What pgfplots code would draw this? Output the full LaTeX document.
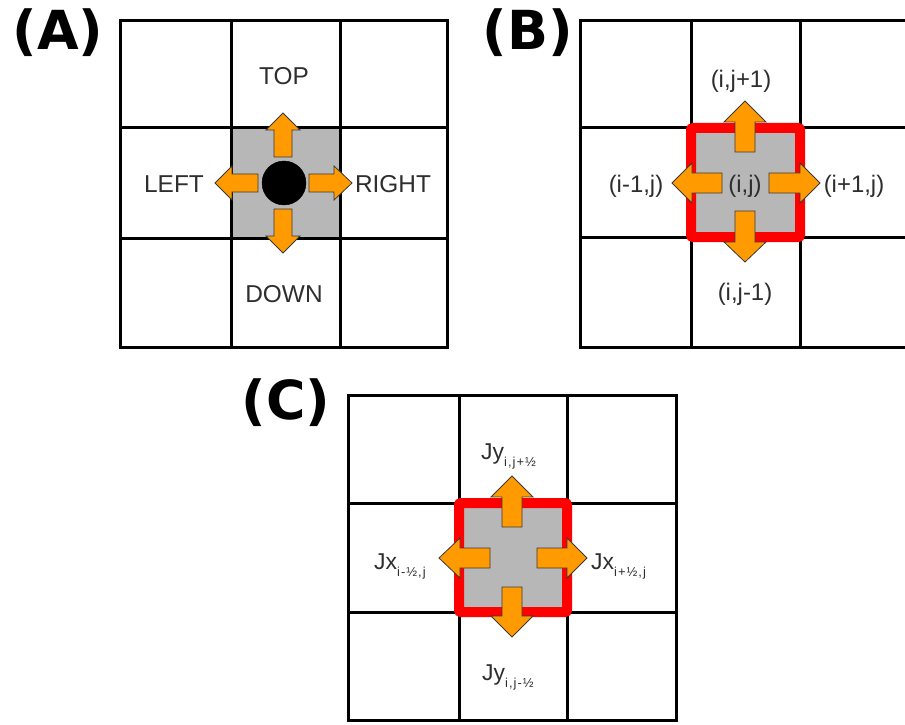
\documentclass[border=0pt]{standalone}
\usepackage{fontspec}
\setmainfont{Liberation Sans}
\newfontfamily\panelfont{DejaVu Sans}
\usepackage{pgfplots}
\pgfplotsset{compat=1.18}
\definecolor{cellgray}{HTML}{B7B7B7}
\definecolor{fluxorange}{HTML}{FF9A00}
\definecolor{labelgray}{HTML}{2E2E2E}
\definecolor{arrowedge}{HTML}{3A3A3A}
\newcommand\lab[1]{\fontsize{#1}{#1}\selectfont}
\newcommand\flux[2]{{\lab{23}#1}\raisebox{-7bp}{\addfontfeatures{LetterSpace=8}\lab{13}#2}}
\begin{document}
\begin{tikzpicture}
\begin{axis}[
  width=905bp, height=725bp, scale only axis,
  xmin=0, xmax=905, ymin=0, ymax=725, y dir=reverse,
  hide axis, clip=true,
  grid line/.style={black, line width=3bp, line cap=rect},
  arrow/.style={fill=fluxorange, draw=arrowedge, line width=0.8bp, line join=miter},
]
\path (axis cs:0,0) rectangle (axis cs:905,725);

% ---------------- (A) stencil with the particle in the centre cell
\addplot[fill=cellgray, draw=none] coordinates {(231,128) (340,128) (340,238) (231,238)} -- cycle;
\addplot[grid line] coordinates {(120,21) (447,21) (447,347) (120,347)} -- cycle;
\addplot[grid line] coordinates {(231,21) (231,347)};
\addplot[grid line] coordinates {(340,21) (340,347)};
\addplot[grid line] coordinates {(120,128) (447,128)};
\addplot[grid line] coordinates {(120,238) (447,238)};
% moves
\addplot[arrow] coordinates {(274,157) (274,130) (266,130) (283,113) (300,130) (292,130) (292,157)} -- cycle;
\addplot[arrow] coordinates {(258,174) (232,174) (232,166) (215,183) (232,200) (232,192) (258,192)} -- cycle;
\addplot[arrow] coordinates {(309,174) (334,174) (334,166) (352,183) (334,200) (334,192) (309,192)} -- cycle;
\addplot[arrow] coordinates {(274,209) (274,236) (266,236) (283,253) (300,236) (292,236) (292,209)} -- cycle;
\addplot[only marks, mark=*, mark size=22bp, black] coordinates {(284,183)};
\node[anchor=base, text=labelgray, font=\lab{24.5}] at (axis cs:284,85) {TOP};
\node[anchor=base, text=labelgray, font=\lab{24.5}] at (axis cs:174,193) {LEFT};
\node[anchor=base, text=labelgray, font=\lab{24.5}] at (axis cs:393,193) {RIGHT};
\node[anchor=base, text=labelgray, font=\lab{24.5}] at (axis cs:284,302) {DOWN};
\node[font=\panelfont\bfseries\lab{54}] at (axis cs:58,33) {(A)};

% ---------------- (B) finite-difference neighbours
\addplot[fill=cellgray, draw=none] coordinates {(691,128) (800,128) (800,237) (691,237)} -- cycle;
\addplot[grid line] coordinates {(912,21) (580,21) (580,347) (912,347)};
\addplot[grid line] coordinates {(691,21) (691,347)};
\addplot[grid line] coordinates {(800,21) (800,347)};
\addplot[grid line] coordinates {(580,128) (912,128)};
\addplot[grid line] coordinates {(580,237) (912,237)};
\addplot[draw=red, line width=10bp, rounded corners=2bp] coordinates {(691,128) (800,128) (800,237) (691,237)} -- cycle;
\addplot[arrow] coordinates {(735,152) (735,122) (724,122) (745,101) (766,122) (755,122) (755,152)} -- cycle;
\addplot[arrow] coordinates {(722,173) (692,173) (692,163) (672,183) (692,203) (692,193) (722,193)} -- cycle;
\addplot[arrow] coordinates {(769,173) (800,173) (800,163) (820,183) (800,203) (800,193) (769,193)} -- cycle;
\addplot[arrow] coordinates {(735,211) (735,242) (724,242) (745,262) (766,242) (755,242) (755,211)} -- cycle;
\node[anchor=base, text=labelgray, font=\lab{24}] at (axis cs:741,88) {(i,j+1)};
\node[anchor=base, text=labelgray, font=\lab{24}] at (axis cs:636,193) {(i-1,j)};
\node[anchor=base, text=labelgray, font=\lab{24}] at (axis cs:745,193) {(i,j)};
\node[anchor=base, text=labelgray, font=\lab{24}] at (axis cs:854,193) {(i+1,j)};
\node[anchor=base, text=labelgray, font=\lab{24}] at (axis cs:745,300) {(i,j-1)};
\node[font=\panelfont\bfseries\lab{54}] at (axis cs:528,33) {(B)};

% ---------------- (C) fluxes across the cell faces
\addplot[fill=cellgray, draw=none] coordinates {(459,503) (567,503) (567,612) (459,612)} -- cycle;
\addplot[grid line] coordinates {(348,395) (676,395) (676,720) (348,720)} -- cycle;
\addplot[grid line] coordinates {(459,395) (459,720)};
\addplot[grid line] coordinates {(567,395) (567,720)};
\addplot[grid line] coordinates {(348,503) (676,503)};
\addplot[grid line] coordinates {(348,612) (676,612)};
\addplot[draw=red, line width=10bp, rounded corners=2bp] coordinates {(459,503) (567,503) (567,612) (459,612)} -- cycle;
\addplot[arrow] coordinates {(502,527) (502,497) (491,497) (512,476) (533,497) (522,497) (522,527)} -- cycle;
\addplot[arrow] coordinates {(490,548) (460,548) (460,538) (439,558) (460,578) (460,568) (490,568)} -- cycle;
\addplot[arrow] coordinates {(537,548) (567,548) (567,538) (587,558) (567,578) (567,568) (537,568)} -- cycle;
\addplot[arrow] coordinates {(502,587) (502,616) (491,616) (512,637) (533,616) (522,616) (522,587)} -- cycle;
\node[anchor=base west, inner sep=0pt, text=labelgray] at (axis cs:481,459) {\flux{Jy}{i,j+½}};
\node[anchor=base west, inner sep=0pt, text=labelgray] at (axis cs:374,569) {\flux{Jx}{i-½,j}};
\node[anchor=base west, inner sep=0pt, text=labelgray] at (axis cs:591,569) {\flux{Jx}{i+½,j}};
\node[anchor=base west, inner sep=0pt, text=labelgray] at (axis cs:482,680) {\flux{Jy}{i,j-½}};
\node[font=\panelfont\bfseries\lab{54}] at (axis cs:286,403) {(C)};
\end{axis}
\end{tikzpicture}
\end{document}
